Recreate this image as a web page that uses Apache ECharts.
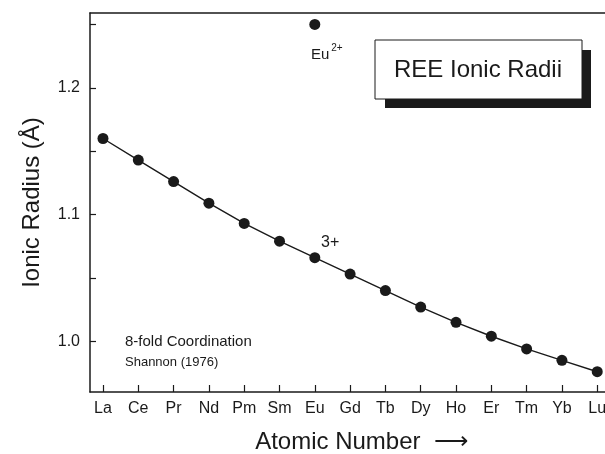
<!DOCTYPE html>
<html>
<head>
<meta charset="utf-8">
<title>REE Ionic Radii</title>
<script src="https://cdn.jsdelivr.net/npm/echarts@6/dist/echarts.min.js"></script>
<style>
  html, body { margin: 0; padding: 0; background: #fff; }
  #chart { width: 605px; height: 454px; }
</style>
</head>
<body>
<div id="chart"></div>
<script>
// 稀土元素 (La -> Lu)
const elements = ['La', 'Ce', 'Pr', 'Nd', 'Pm', 'Sm', 'Eu', 'Gd', 'Tb', 'Dy', 'Ho', 'Er', 'Tm', 'Yb', 'Lu'];
// 3+ 离子半径, 8 配位 (Å)
const radii3 = [1.160, 1.143, 1.126, 1.109, 1.093, 1.079, 1.066, 1.053, 1.040, 1.027, 1.015, 1.004, 0.994, 0.985, 0.976];
// Eu2+
const euIndex = 6;
const eu2 = 1.25;
// 刻度
const yTicks = [1.0, 1.05, 1.1, 1.15, 1.2, 1.25];
const yLabels = [1.0, 1.1, 1.2];

const ink = '#1a1a1a';
const font = 'Liberation Sans, Arial, Helvetica, sans-serif';
const idx = elements.map((_, i) => i);

const chart = echarts.init(document.getElementById('chart'), null, { renderer: 'canvas' });

chart.setOption({
  backgroundColor: '#fff',
  animation: false,
  grid: { left: 90, right: 0, top: 13, bottom: 62, outerBoundsMode: 'none' },
  xAxis: [
    {
      type: 'value',
      min: -0.368,
      max: 14.22,
      name: 'Atomic Number  \u27F6',
      nameLocation: 'middle',
      nameGap: 38,
      nameTextStyle: { color: ink, fontSize: 24, fontFamily: font, padding: [0, 0, 0, 28] },
      axisLine: { onZero: false, lineStyle: { color: ink, width: 1.5 } },
      axisTick: { inside: true, length: 7, customValues: idx, lineStyle: { color: ink, width: 1.2 } },
      axisLabel: {
        customValues: idx,
        color: ink,
        fontSize: 16,
        fontFamily: font,
        margin: 9,
        formatter: v => elements[Math.round(v)]
      },
      splitLine: { show: false }
    },
    {
      // 顶部边框
      type: 'value',
      position: 'top',
      min: -0.368,
      max: 14.22,
      axisLine: { onZero: false, lineStyle: { color: ink, width: 1.5 } },
      axisTick: { show: false },
      axisLabel: { show: false },
      splitLine: { show: false }
    }
  ],
  yAxis: {
    type: 'value',
    min: 0.96,
    max: 1.259,
    name: 'Ionic Radius (\u00C5)',
    nameLocation: 'middle',
    nameGap: 46,
    nameTextStyle: { color: ink, fontSize: 24, fontFamily: font },
    axisLine: { show: true, onZero: false, lineStyle: { color: ink, width: 1.5 } },
    axisTick: { show: true, inside: true, length: 6, customValues: yTicks, lineStyle: { color: ink, width: 1.2 } },
    axisLabel: {
      customValues: yLabels,
      color: ink,
      fontSize: 16,
      fontFamily: font,
      margin: 10,
      formatter: v => v.toFixed(1)
    },
    splitLine: { show: false }
  },
  series: [
    {
      name: '3+',
      type: 'line',
      data: radii3.map((r, i) => [i, r]),
      symbol: 'circle',
      symbolSize: 11,
      lineStyle: { color: ink, width: 1.4 },
      itemStyle: { color: ink }
    },
    {
      name: 'Eu2+',
      type: 'scatter',
      data: [[euIndex, eu2]],
      symbol: 'circle',
      symbolSize: 11,
      itemStyle: { color: ink, opacity: 1 },
      label: {
        show: true,
        position: 'bottom',
        distance: 13,
        formatter: 'Eu{s|2+}',
        color: ink,
        fontSize: 15,
        fontFamily: font,
        offset: [12, 0],
        rich: { s: { fontSize: 10, verticalAlign: 'top', padding: [0, 0, 14, 2], color: ink, fontFamily: font } }
      }
    }
  ],
  graphic: [
    // 标题框阴影
    { type: 'rect', shape: { x: 385, y: 50, width: 206, height: 58 }, style: { fill: ink } },
    { type: 'rect', shape: { x: 375, y: 40, width: 207, height: 59 }, style: { fill: '#fff', stroke: ink, lineWidth: 1 } },
    { type: 'text', x: 478, y: 70, style: { text: 'REE Ionic Radii', fill: ink, fontSize: 24, fontFamily: font, align: 'center', verticalAlign: 'middle' } },
    // 注释
    { type: 'text', x: 321, y: 243, style: { text: '3+', fill: ink, fontSize: 16, fontFamily: font, verticalAlign: 'middle' } },
    { type: 'text', x: 125, y: 342, style: { text: '8-fold Coordination', fill: ink, fontSize: 15, fontFamily: font, verticalAlign: 'middle' } },
    { type: 'text', x: 125, y: 362, style: { text: 'Shannon (1976)', fill: ink, fontSize: 13, fontFamily: font, verticalAlign: 'middle' } }
  ]
});
</script>
</body>
</html>
